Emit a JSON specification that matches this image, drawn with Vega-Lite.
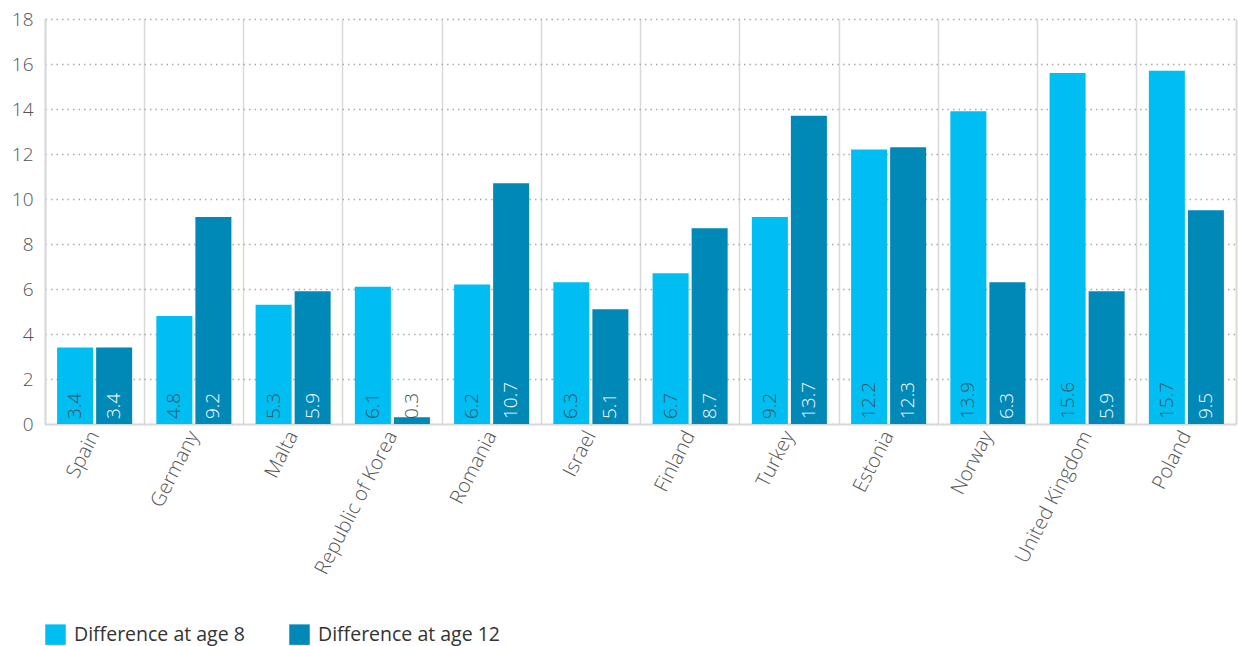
{
  "$schema": "https://vega.github.io/schema/vega-lite/v6.json",
  "width": 1191,
  "height": 405,
  "autosize": {"type": "none"},
  "padding": {"left": 45, "top": 19, "right": 2, "bottom": 222},
  "background": "white",
  "config": {
    "font": "Open Sans",
    "view": {"stroke": null},
    "axis": {"labelFont": "Open Sans", "labelFontWeight": 300},
    "legend": {"labelFont": "Open Sans"}
  },
  "data": {
    "values": [
      {"country": "Spain", "series": "Difference at age 8", "value": 3.4},
      {"country": "Spain", "series": "Difference at age 12", "value": 3.4},
      {"country": "Germany", "series": "Difference at age 8", "value": 4.8},
      {"country": "Germany", "series": "Difference at age 12", "value": 9.2},
      {"country": "Malta", "series": "Difference at age 8", "value": 5.3},
      {"country": "Malta", "series": "Difference at age 12", "value": 5.9},
      {"country": "Republic of Korea", "series": "Difference at age 8", "value": 6.1},
      {"country": "Republic of Korea", "series": "Difference at age 12", "value": 0.3},
      {"country": "Romania", "series": "Difference at age 8", "value": 6.2},
      {"country": "Romania", "series": "Difference at age 12", "value": 10.7},
      {"country": "Israel", "series": "Difference at age 8", "value": 6.3},
      {"country": "Israel", "series": "Difference at age 12", "value": 5.1},
      {"country": "Finland", "series": "Difference at age 8", "value": 6.7},
      {"country": "Finland", "series": "Difference at age 12", "value": 8.7},
      {"country": "Turkey", "series": "Difference at age 8", "value": 9.2},
      {"country": "Turkey", "series": "Difference at age 12", "value": 13.7},
      {"country": "Estonia", "series": "Difference at age 8", "value": 12.2},
      {"country": "Estonia", "series": "Difference at age 12", "value": 12.3},
      {"country": "Norway", "series": "Difference at age 8", "value": 13.9},
      {"country": "Norway", "series": "Difference at age 12", "value": 6.3},
      {"country": "United Kingdom", "series": "Difference at age 8", "value": 15.6},
      {"country": "United Kingdom", "series": "Difference at age 12", "value": 5.9},
      {"country": "Poland", "series": "Difference at age 8", "value": 15.7},
      {"country": "Poland", "series": "Difference at age 12", "value": 9.5}
    ]
  },
  "encoding": {
    "x": {
      "field": "country",
      "type": "nominal",
      "sort": null,
      "scale": {"paddingInner": 0, "paddingOuter": 0},
      "axis": {
        "title": null,
        "labelAngle": -63,
        "labelAlign": "right",
        "labelBaseline": "middle",
        "labelFontSize": 20,
        "labelColor": "#555555",
        "labelPadding": 8,
        "labelLimit": 0,
        "ticks": false,
        "domain": true,
        "domainColor": "#d9d9d9",
        "domainWidth": 2,
        "grid": true,
        "gridColor": "#d9d9d9",
        "gridWidth": 1.5,
        "bandPosition": 0
      }
    },
    "xOffset": {
      "field": "series",
      "type": "nominal",
      "sort": ["Difference at age 8", "Difference at age 12"],
      "scale": {"paddingInner": 0.077, "paddingOuter": 0.31}
    }
  },
  "resolve": {"axis": {"y": "independent"}},
  "layer": [
    {
      "mark": {"type": "bar"},
      "encoding": {
        "y": {
          "field": "value",
          "type": "quantitative",
          "scale": {"domain": [0, 18], "nice": false},
          "axis": {
            "title": null,
            "values": [0, 2, 4, 6, 8, 10, 12, 14, 16, 18],
            "labelFontSize": 19,
            "labelColor": "#555555",
            "labelPadding": 12,
            "ticks": false,
            "domain": true,
            "domainColor": "#d9d9d9",
            "domainWidth": 2,
            "grid": true,
            "gridColor": "#aaaaaa",
            "gridDash": [1.5, 4],
            "gridWidth": 1.5
          }
        },
        "color": {
          "field": "series",
          "type": "nominal",
          "sort": ["Difference at age 8", "Difference at age 12"],
          "scale": {
            "domain": ["Difference at age 8", "Difference at age 12"],
            "range": ["#00bef2", "#0088b7"]
          },
          "legend": {
            "title": null,
            "orient": "none",
            "legendX": 0,
            "legendY": 605,
            "direction": "horizontal",
            "symbolType": "square",
            "symbolSize": 420,
            "symbolStrokeWidth": 0,
            "symbolOpacity": 1,
            "labelFontSize": 19.5,
            "labelFontWeight": 400,
            "labelColor": "#333333",
            "labelOffset": 8,
            "labelLimit": 0,
            "columnPadding": 44
          }
        }
      }
    },
    {
      "mark": {"type": "text", "angle": -90, "align": "left", "baseline": "middle", "dx": 5, "fontSize": 19, "fontWeight": 300},
      "encoding": {
        "y": {
          "datum": 0,
          "type": "quantitative",
          "axis": {
            "orient": "right",
            "title": null,
            "labels": false,
            "ticks": false,
            "grid": false,
            "domain": true,
            "domainColor": "#d9d9d9",
            "domainWidth": 2
          }
        },
        "text": {"field": "value", "type": "quantitative", "format": ".1f"},
        "color": {
          "condition": {"test": "datum.series === 'Difference at age 12' && datum.value >= 1", "value": "#ffffff"},
          "value": "#3d4f5a"
        }
      }
    }
  ]
}
